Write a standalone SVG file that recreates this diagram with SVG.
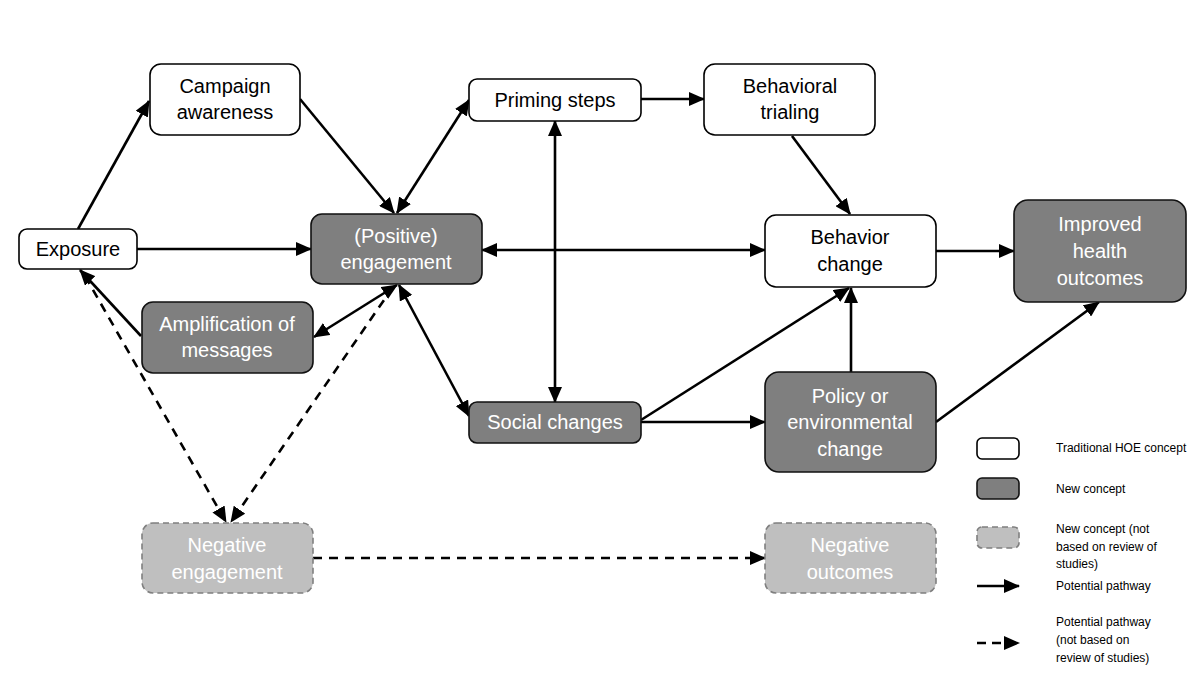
<svg xmlns="http://www.w3.org/2000/svg" width="1200" height="675" viewBox="0 0 1200 675">
<style>
text{font-family:"Liberation Sans",Arial,sans-serif;font-size:20px;text-anchor:middle}
.w rect{fill:#fff;stroke:#000;stroke-width:1.6}
.w text{fill:#000}
.d rect{fill:#7f7f7f;stroke:#111;stroke-width:1.6}
.d text{fill:#fff}
.g rect{fill:#bfbfbf;stroke:#7f7f7f;stroke-width:1.6;stroke-dasharray:6 4}
.g text{fill:#fff}
.c line{stroke:#000;stroke-width:2.6;fill:none}
.c .dash{stroke-dasharray:9 7}
.leg text{font-size:12px;text-anchor:start;fill:#000}
</style>
<defs>
<marker id="a" markerUnits="userSpaceOnUse" markerWidth="16" markerHeight="14" refX="15" refY="7" orient="auto-start-reverse" viewBox="0 0 16 14">
<path d="M0,0 L16,7 L0,14 Z" fill="#000"/>
</marker>
</defs>

<g class="c" id="connectors">
<line x1="78" y1="229" x2="149" y2="101" marker-end="url(#a)"/>
<line x1="300" y1="99" x2="394" y2="213" marker-end="url(#a)"/>
<line x1="397" y1="213" x2="469" y2="100" marker-start="url(#a)" marker-end="url(#a)"/>
<line x1="137" y1="249" x2="311" y2="249" marker-end="url(#a)"/>
<line x1="141" y1="336" x2="80" y2="270" marker-end="url(#a)"/>
<line x1="397" y1="285" x2="314" y2="337" marker-start="url(#a)" marker-end="url(#a)"/>
<line x1="399" y1="285" x2="469" y2="416" marker-start="url(#a)" marker-end="url(#a)"/>
<line x1="555" y1="121" x2="555" y2="402" marker-start="url(#a)" marker-end="url(#a)"/>
<line x1="641" y1="99" x2="704" y2="99" marker-end="url(#a)"/>
<line x1="792" y1="136" x2="850" y2="214" marker-end="url(#a)"/>
<line x1="482" y1="250" x2="765" y2="250" marker-start="url(#a)" marker-end="url(#a)"/>
<line x1="936" y1="251" x2="1014" y2="251" marker-end="url(#a)"/>
<line x1="641" y1="420" x2="849" y2="288" marker-end="url(#a)"/>
<line x1="851" y1="372" x2="851" y2="288" marker-end="url(#a)"/>
<line x1="641" y1="422" x2="765" y2="422" marker-end="url(#a)"/>
<line x1="936" y1="422" x2="1099" y2="302" marker-end="url(#a)"/>
<line class="dash" x1="85" y1="276" x2="226" y2="522" marker-end="url(#a)"/>
<line class="dash" x1="393" y1="287" x2="231" y2="522" marker-end="url(#a)"/>
<line class="dash" x1="313" y1="558" x2="765" y2="558" marker-end="url(#a)"/>
</g>

<g id="campaign" class="w"><rect x="150" y="64" width="150" height="71" rx="11"/><text x="225" y="93">Campaign</text><text x="225" y="119">awareness</text></g>
<g id="exposure" class="w"><rect x="19" y="229" width="118" height="40" rx="8"/><text x="78" y="256">Exposure</text></g>
<g id="engagement" class="d"><rect x="311" y="214" width="171" height="70" rx="11"/><text x="396" y="243">(Positive)</text><text x="396" y="269">engagement</text></g>
<g id="amplification" class="d"><rect x="142" y="302" width="171" height="71" rx="11"/><text x="227" y="331">Amplification of</text><text x="227" y="357">messages</text></g>
<g id="priming" class="w"><rect x="469" y="79" width="172" height="42" rx="8"/><text x="555" y="107">Priming steps</text></g>
<g id="trialing" class="w"><rect x="704" y="64" width="171" height="71" rx="11"/><text x="790" y="93">Behavioral</text><text x="790" y="119">trialing</text></g>
<g id="behavior" class="w"><rect x="765" y="215" width="171" height="72" rx="11"/><text x="850" y="244">Behavior</text><text x="850" y="271">change</text></g>
<g id="health" class="d"><rect x="1014" y="200" width="172" height="102" rx="14"/><text x="1100" y="231">Improved</text><text x="1100" y="258">health</text><text x="1100" y="285">outcomes</text></g>
<g id="social" class="d"><rect x="469" y="402" width="172" height="41" rx="8"/><text x="555" y="429">Social changes</text></g>
<g id="policy" class="d"><rect x="765" y="372" width="171" height="100" rx="14"/><text x="850" y="403">Policy or</text><text x="850" y="429">environmental</text><text x="850" y="456">change</text></g>
<g id="negeng" class="g"><rect x="142" y="523" width="171" height="70" rx="11"/><text x="227" y="552">Negative</text><text x="227" y="579">engagement</text></g>
<g id="negout" class="g"><rect x="765" y="523" width="171" height="70" rx="11"/><text x="850" y="552">Negative</text><text x="850" y="579">outcomes</text></g>

<g id="legend" class="leg">
<g class="w"><rect x="977" y="438" width="42" height="21" rx="5"/></g>
<text x="1056" y="452">Traditional HOE concept</text>
<g class="d"><rect x="977" y="478" width="42" height="21" rx="5"/></g>
<text x="1056" y="493">New concept</text>
<g class="g"><rect x="977" y="527" width="42" height="21" rx="5"/></g>
<text x="1056" y="533">New concept (not</text>
<text x="1056" y="551">based on review of</text>
<text x="1056" y="568">studies)</text>
<g class="c"><line x1="977" y1="586" x2="1019" y2="586" marker-end="url(#a)"/></g>
<text x="1056" y="590">Potential pathway</text>
<g class="c"><line class="dash" x1="977" y1="643" x2="1019" y2="643" marker-end="url(#a)" style="stroke-dasharray:9 6"/></g>
<text x="1056" y="626">Potential pathway</text>
<text x="1056" y="644">(not based on</text>
<text x="1056" y="662">review of studies)</text>
</g>
</svg>
